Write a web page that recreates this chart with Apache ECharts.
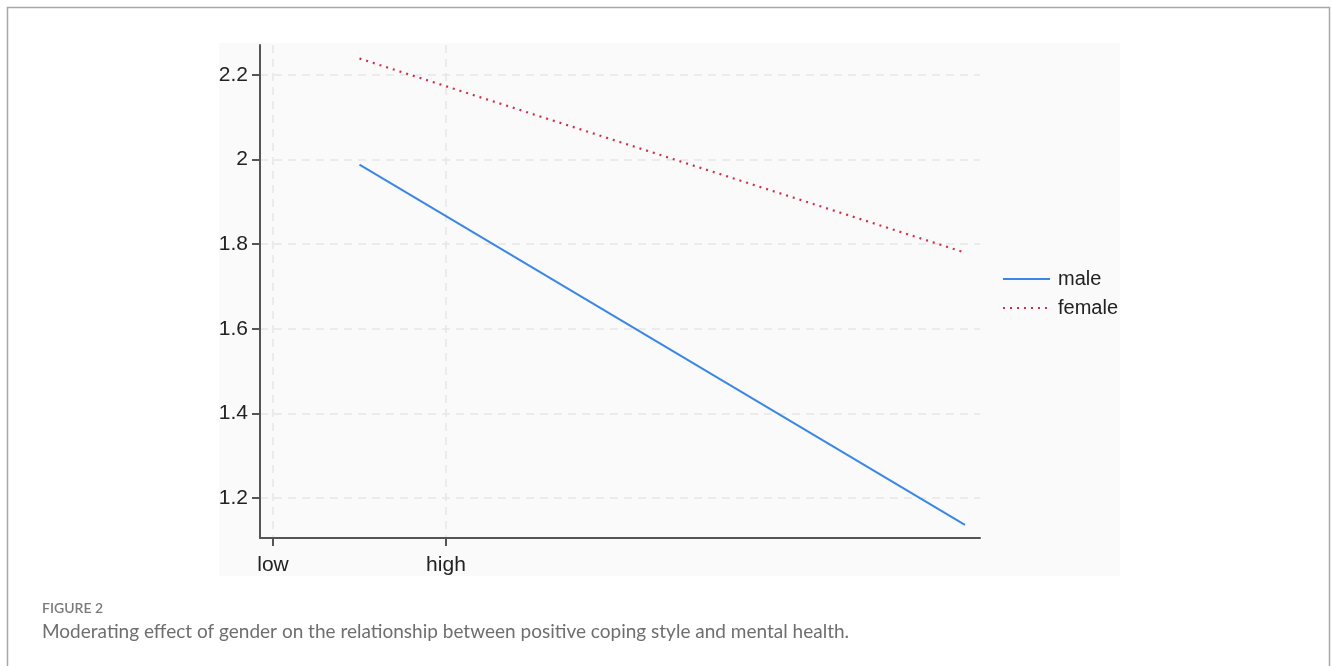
<!DOCTYPE html>
<html><head><meta charset="utf-8">
<script src="https://cdn.jsdelivr.net/npm/echarts@6/dist/echarts.min.js"></script>
<style>html,body{margin:0;padding:0;background:#fff}#c{width:1331px;height:666px}</style>
</head><body><div id="c"></div>
<script>
const xTickValues = [0, 1];
const xTickLabels = ['low', 'high'];
const xPoints = [0.5, 4.0];
const maleValues = [1.988, 1.136];
const femaleValues = [2.239, 1.780];
const yTicks = [1.2, 1.4, 1.6, 1.8, 2.0, 2.2];
const seriesNames = ['male', 'female'];
const figureLabel = 'FIGURE 2';
const captionText = 'Moderating effect of gender on the relationship between positive coping style and mental health.';

const chart = echarts.init(document.getElementById('c'));
const pairs = v => xPoints.map((x, i) => [x, v[i]]);
chart.setOption({
  animation: false,
  backgroundColor: '#fff',
  grid: { left: 260, top: 45, right: 351, bottom: 128, containLabel: false },
  graphic: [
    { type: 'rect', z: -10, shape: { x: 7.5, y: 7.5, width: 1322, height: 700 }, style: { fill: '#fff', stroke: '#a8a8a8', lineWidth: 1.5 } },
    { type: 'rect', z: -5, shape: { x: 219, y: 43, width: 901, height: 533 }, style: { fill: '#fafafa' } },
    { type: 'text', x: 42, y: 608, style: { text: figureLabel, verticalAlign: 'middle', font: '600 14px Lato, "Open Sans", sans-serif', fill: '#7a7a7a' } },
    { type: 'text', x: 42, y: 632, style: { text: captionText, verticalAlign: 'middle', font: '19px Lato, "Open Sans", sans-serif', fill: '#6e6e6e' } }
  ],
  legend: {
    orient: 'vertical', left: 997, top: 264, itemWidth: 47, itemHeight: 14, itemGap: 9,
    data: seriesNames,
    itemStyle: { opacity: 0 },
    textStyle: { fontSize: 20, color: '#222', fontFamily: 'Liberation Sans, Arial, sans-serif', padding: [0, 0, 0, 3] }
  },
  xAxis: {
    type: 'value', min: -0.075, max: 4.087,
    axisLine: { show: true, onZero: false, lineStyle: { color: '#555', width: 2 } },
    axisTick: { show: true, length: 8, customValues: xTickValues, lineStyle: { color: '#555', width: 2 } },
    axisLabel: { customValues: xTickValues, formatter: v => xTickLabels[xTickValues.indexOf(v)] || '', fontSize: 21, color: '#222', margin: 17, fontFamily: 'Liberation Sans, Arial, sans-serif' },
    splitLine: { show: true, customValues: xTickValues, lineStyle: { color: '#e6e6e6', type: [8, 6], width: 1.5 } }
  },
  yAxis: {
    type: 'value', min: 1.105, max: 2.271,
    axisLine: { show: true, onZero: false, lineStyle: { color: '#555', width: 2 } },
    axisTick: { show: true, length: 8, customValues: yTicks, lineStyle: { color: '#555', width: 2 } },
    axisLabel: { customValues: yTicks, fontSize: 21, color: '#222', margin: 12, fontFamily: 'Liberation Sans, Arial, sans-serif' },
    splitLine: { show: true, customValues: yTicks, lineStyle: { color: '#e6e6e6', type: [8, 6], width: 1.5 } }
  },
  series: [
    { name: seriesNames[0], type: 'line', symbol: 'none', data: pairs(maleValues), lineStyle: { color: '#3b87e6', width: 2 }, itemStyle: { color: '#3b87e6' } },
    { name: seriesNames[1], type: 'line', symbol: 'none', data: pairs(femaleValues), lineStyle: { color: '#cf3048', width: 2.2, type: [2, 5] }, itemStyle: { color: '#cf3048' } }
  ]
});
</script></body></html>
